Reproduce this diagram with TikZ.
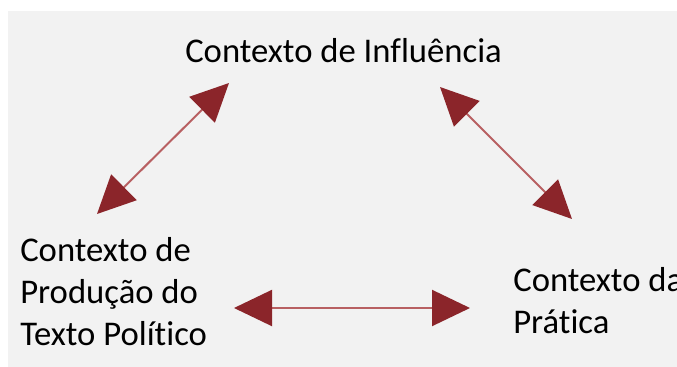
\documentclass[tikz,border=0pt]{standalone}
\usepackage{fontspec}
\setmainfont[Ligatures=NoCommon]{Carlito}
\usetikzlibrary{arrows.meta}
\definecolor{bggray}{RGB}{242,242,242}
\definecolor{tipred}{RGB}{139,37,42}
\definecolor{shaftred}{RGB}{184,96,98}
\tikzset{
  ctxlabel/.style={inner sep=0pt, align=left, font=\fontsize{26}{31.5}\selectfont},
  ctxarrow/.style={draw=shaftred, line width=1.5pt,
    {Triangle[length=28.5pt, width=27pt, color=tipred]}-{Triangle[length=28.5pt, width=27pt, color=tipred]}}
}
\begin{document}
\begin{tikzpicture}[x=0.75pt,y=0.75pt,yscale=-1,xscale=1]
\useasboundingbox (0,0) rectangle (677,367);

%Shape: Rectangle
\fill [bggray] (8,11) rectangle (677,367);

% Text Node
\draw (185,63) node (infl) [anchor=base west] [ctxlabel] {Contexto de Influência};
% Text Node
\draw (20,345) node (prod) [anchor=base west] [ctxlabel] {Contexto de\\Produção do\\Texto Político};
% Text Node
\draw (513,333) node (prat) [anchor=base west] [ctxlabel] {Contexto da\\Prática};

% arrow ends
\coordinate (infl l) at (229,83);
\coordinate (infl r) at (440,87);
\coordinate (prod t) at (97,214);
\coordinate (prod r) at (234,308);
\coordinate (prat t) at (572,219);
\coordinate (prat l) at (470,308);

%Straight Lines
\draw [ctxarrow] (prod t) -- (infl l);
%Straight Lines
\draw [ctxarrow] (infl r) -- (prat t);
%Straight Lines
\draw [ctxarrow] (prod r) -- (prat l);

\end{tikzpicture}
\end{document}
